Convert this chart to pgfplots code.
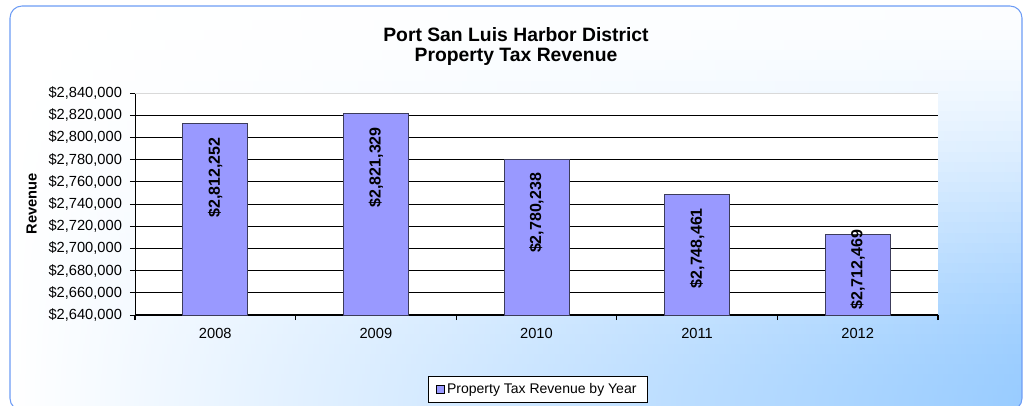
\documentclass[border=0pt]{standalone}
\usepackage{fontspec}
\setmainfont{Liberation Sans}
\usepackage{pgfplots}
\usepackage{pgfplotstable}
\pgfplotsset{compat=1.18}

\definecolor{barfill}{HTML}{9999FF}
\definecolor{baredge}{HTML}{3C3C5A}
\definecolor{bgblue}{HTML}{99CCFF}
\definecolor{frameblue}{HTML}{6D9CF5}

% year, revenue, label text, label offset (pt, along the bar)
\pgfplotstableread{
x year y lab off
0 2008 2812252 2,812,252 -6.5
1 2009 2821329 2,821,329 -6.5
2 2010 2780238 2,780,238 -6.5
3 2011 2748461 2,748,461 -6.5
4 2012 2712469 2,712,469 7.5
}\revenue

\begin{document}
\begin{tikzpicture}
\useasboundingbox (0,0) rectangle (769.5pt,303.75pt);
% background: white at top left, blue towards bottom right (horizontal strips)
\begin{scope}
\clip[rounded corners=9pt] (7.5pt,-4pt) rectangle (766.5pt,299.25pt);
\foreach \j in {0,...,39}{
  \pgfmathsetmacro{\ytop}{303.75-\j*7.6}
  \pgfmathsetmacro{\ybot}{\ytop-8.2}
  \pgfmathsetmacro{\d}{(\j+0.5)/40}
  \pgfmathsetmacro{\p}{3+97*(3*\d*\d-2*\d*\d*\d)}
  \pgfmathsetmacro{\pm}{0.35*\p}
  \shade[left color=white, middle color=bgblue!\pm, right color=bgblue!\p]
    (7.5pt,\ybot pt) rectangle (766.5pt,\ytop pt);
}
\end{scope}
\draw[frameblue, line width=0.8pt, rounded corners=9pt] (7.5pt,-4pt) rectangle (766.5pt,299.25pt);

\begin{axis}[
  at={(101.25pt,67.5pt)}, anchor=south west,
  scale only axis, width=602.25pt, height=166.5pt,
  axis background/.style={fill=white},
  ybar, bar width=48.75pt,
  xmin=-0.5, xmax=4.5,
  ymin=2640000, ymax=2840000,
  xtick={0,1,2,3,4},
  xticklabels from table={\revenue}{year},
  minor xtick={-0.5,0.5,1.5,2.5,3.5,4.5},
  ytick={2640000,2660000,2680000,2700000,2720000,2740000,2760000,2780000,2800000,2820000,2840000},
  ymajorgrids, major grid style={black, line width=0.6pt},
  axis x line*=bottom, axis y line*=left,
  x axis line style={black, line width=1.6pt, -},
  y axis line style={black, line width=0.6pt, -},
  tick align=outside,
  major tick length=3.75pt, minor tick length=3.75pt,
  major x tick style={draw=none},
  minor x tick style={black, line width=0.8pt},
  y tick style={black, line width=0.6pt},
  scaled y ticks=false,
  /pgf/number format/assume math mode=true,
  yticklabel={\$\pgfmathprintnumber[fixed,precision=0,1000 sep={,}]{\tick}},
  ticklabel style={font=\fontsize{11}{13}\selectfont},
  yticklabel style={xshift=-2.5pt},
  xticklabel style={yshift=-3pt},
  every axis y label/.style={at={(axis description cs:-0.1286,0.5)}, anchor=center, rotate=90},
  ylabel={\bfseries Revenue},
  ylabel style={font=\bfseries\fontsize{11}{13}\selectfont},
  point meta=explicit symbolic,
  nodes near coords={\$\pgfplotspointmeta},
  visualization depends on={\thisrow{off} \as \labeloff},
  every node near coord/.append style={rotate=90, anchor=east, xshift=\labeloff pt, font=\bfseries\fontsize{12}{14}\selectfont, black},
  legend style={at={(0.5012,-0.334)}, anchor=center, draw=black, fill=white,
    font=\fontsize{10.5}{12}\selectfont, inner xsep=6pt, inner ysep=3pt},
  legend image code/.code={\draw[fill=barfill, draw=black, line width=0.5pt] (0pt,-3pt) rectangle (6pt,3pt);},
]
\addplot[fill=barfill, draw=baredge, line width=0.6pt] table[x=x, y=y, meta=lab] {\revenue};
\addlegendentry{Property Tax Revenue by Year}
\draw[black!15, line width=1.2pt] (rel axis cs:0,1) -- (rel axis cs:1,1);
\end{axis}

\node[font=\bfseries\fontsize{14.5}{17}\selectfont] at (387pt,277.5pt) {Port San Luis Harbor District};
\node[font=\bfseries\fontsize{14.5}{17}\selectfont] at (387pt,261pt) {Property Tax Revenue};
\end{tikzpicture}
\end{document}
